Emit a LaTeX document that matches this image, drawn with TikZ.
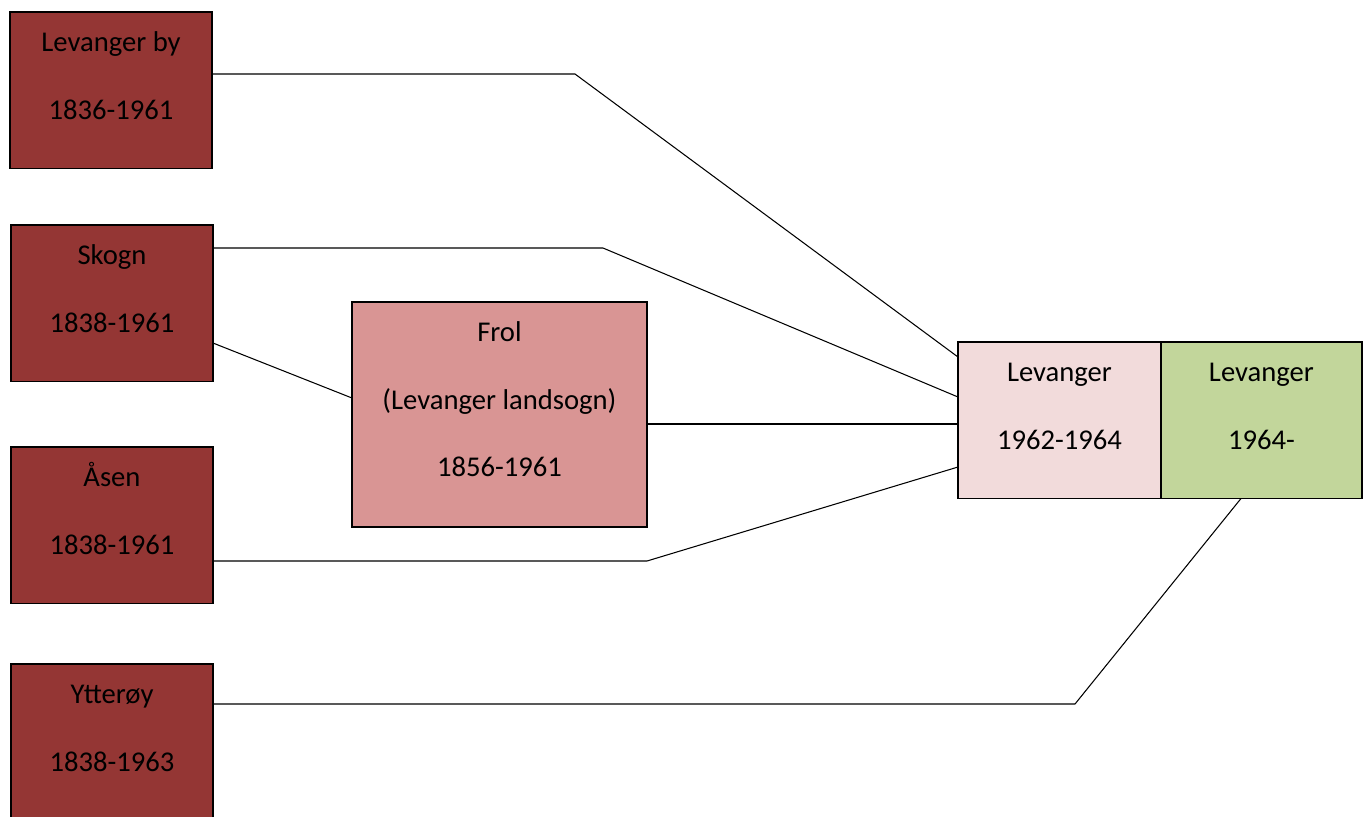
\documentclass[tikz,border=0pt]{standalone}
\usepackage{fontspec}
\setmainfont{Carlito}
\usetikzlibrary{positioning}

\definecolor{oldred}{HTML}{943634}
\definecolor{frolred}{HTML}{D99594}
\definecolor{midpink}{HTML}{F2DBDB}
\definecolor{newgreen}{HTML}{C2D69B}

\newcommand{\topgap}{\rule{0pt}{0.79cm}}

\tikzset{
  kbox/.style={draw=black, line width=0.7pt, rectangle, anchor=north west,
    inner sep=0pt, outer sep=0pt, minimum width=4.04cm, minimum height=3.13cm},
  ktext/.style={align=center, inner sep=0pt,
    font=\fontsize{16.3pt}{1.35cm}\selectfont},
  link/.style={draw=black, line width=0.6pt}
}

\begin{document}
\begin{tikzpicture}[x=0.02cm, y=-0.02cm]

\useasboundingbox (0,0) rectangle (1370,816);

% old municipalities
\node(by)[kbox, fill=oldred] at (10,12) {};
\node(skogn)[kbox, fill=oldred] at (11,225) {};
\node(asen)[kbox, fill=oldred] at (11,447) {};
\node(ytteroy)[kbox, fill=oldred, minimum height=3.3cm] at (11,664) {};

\node(frol)[kbox, fill=frolred, minimum width=5.9cm, minimum height=4.5cm] at (352,302) {};

% new municipality
\node(lev1)[kbox, fill=midpink, minimum width=4.06cm] at (958,342) {};
\node(lev2)[kbox, fill=newgreen, minimum width=4.02cm, right=0pt of lev1] {};

\node(bytext)[ktext, below=0pt of by.north] {\topgap Levanger by\\1836-1961};
\node(skogntext)[ktext, below=0pt of skogn.north] {\topgap Skogn\\1838-1961};
\node(asentext)[ktext, below=0pt of asen.north] {\topgap Åsen\\1838-1961};
\node(ytteroytext)[ktext, below=0pt of ytteroy.north] {\topgap Ytterøy\\1838-1963};
\node(froltext)[ktext, below=0pt of frol.north] {\topgap Frol\\(Levanger landsogn)\\1856-1961};
\node(lev1text)[ktext, below=0pt of lev1.north] {\topgap Levanger\\1962-1964};
\node(lev2text)[ktext, below=0pt of lev2.north] {\topgap Levanger\\1964-};

\draw[link] (by.east |- 0,74) -- (575,74) -- (lev1.west |- 0,357);
\draw[link] (skogn.east |- 0,248) -- (603,248) -- (lev1.west |- 0,397);
\draw[link] (skogn.east |- 0,343) -- (frol.west |- 0,398);
\draw[link] (frol.east |- 0,424) -- (lev1.west |- 0,424);
\draw[link] (asen.east |- 0,561) -- (647,561) -- (lev1.west |- 0,467);
\draw[link] (ytteroy.east |- 0,704) -- (1075,704) -- (lev2.south -| 1241,0);

\end{tikzpicture}
\end{document}
